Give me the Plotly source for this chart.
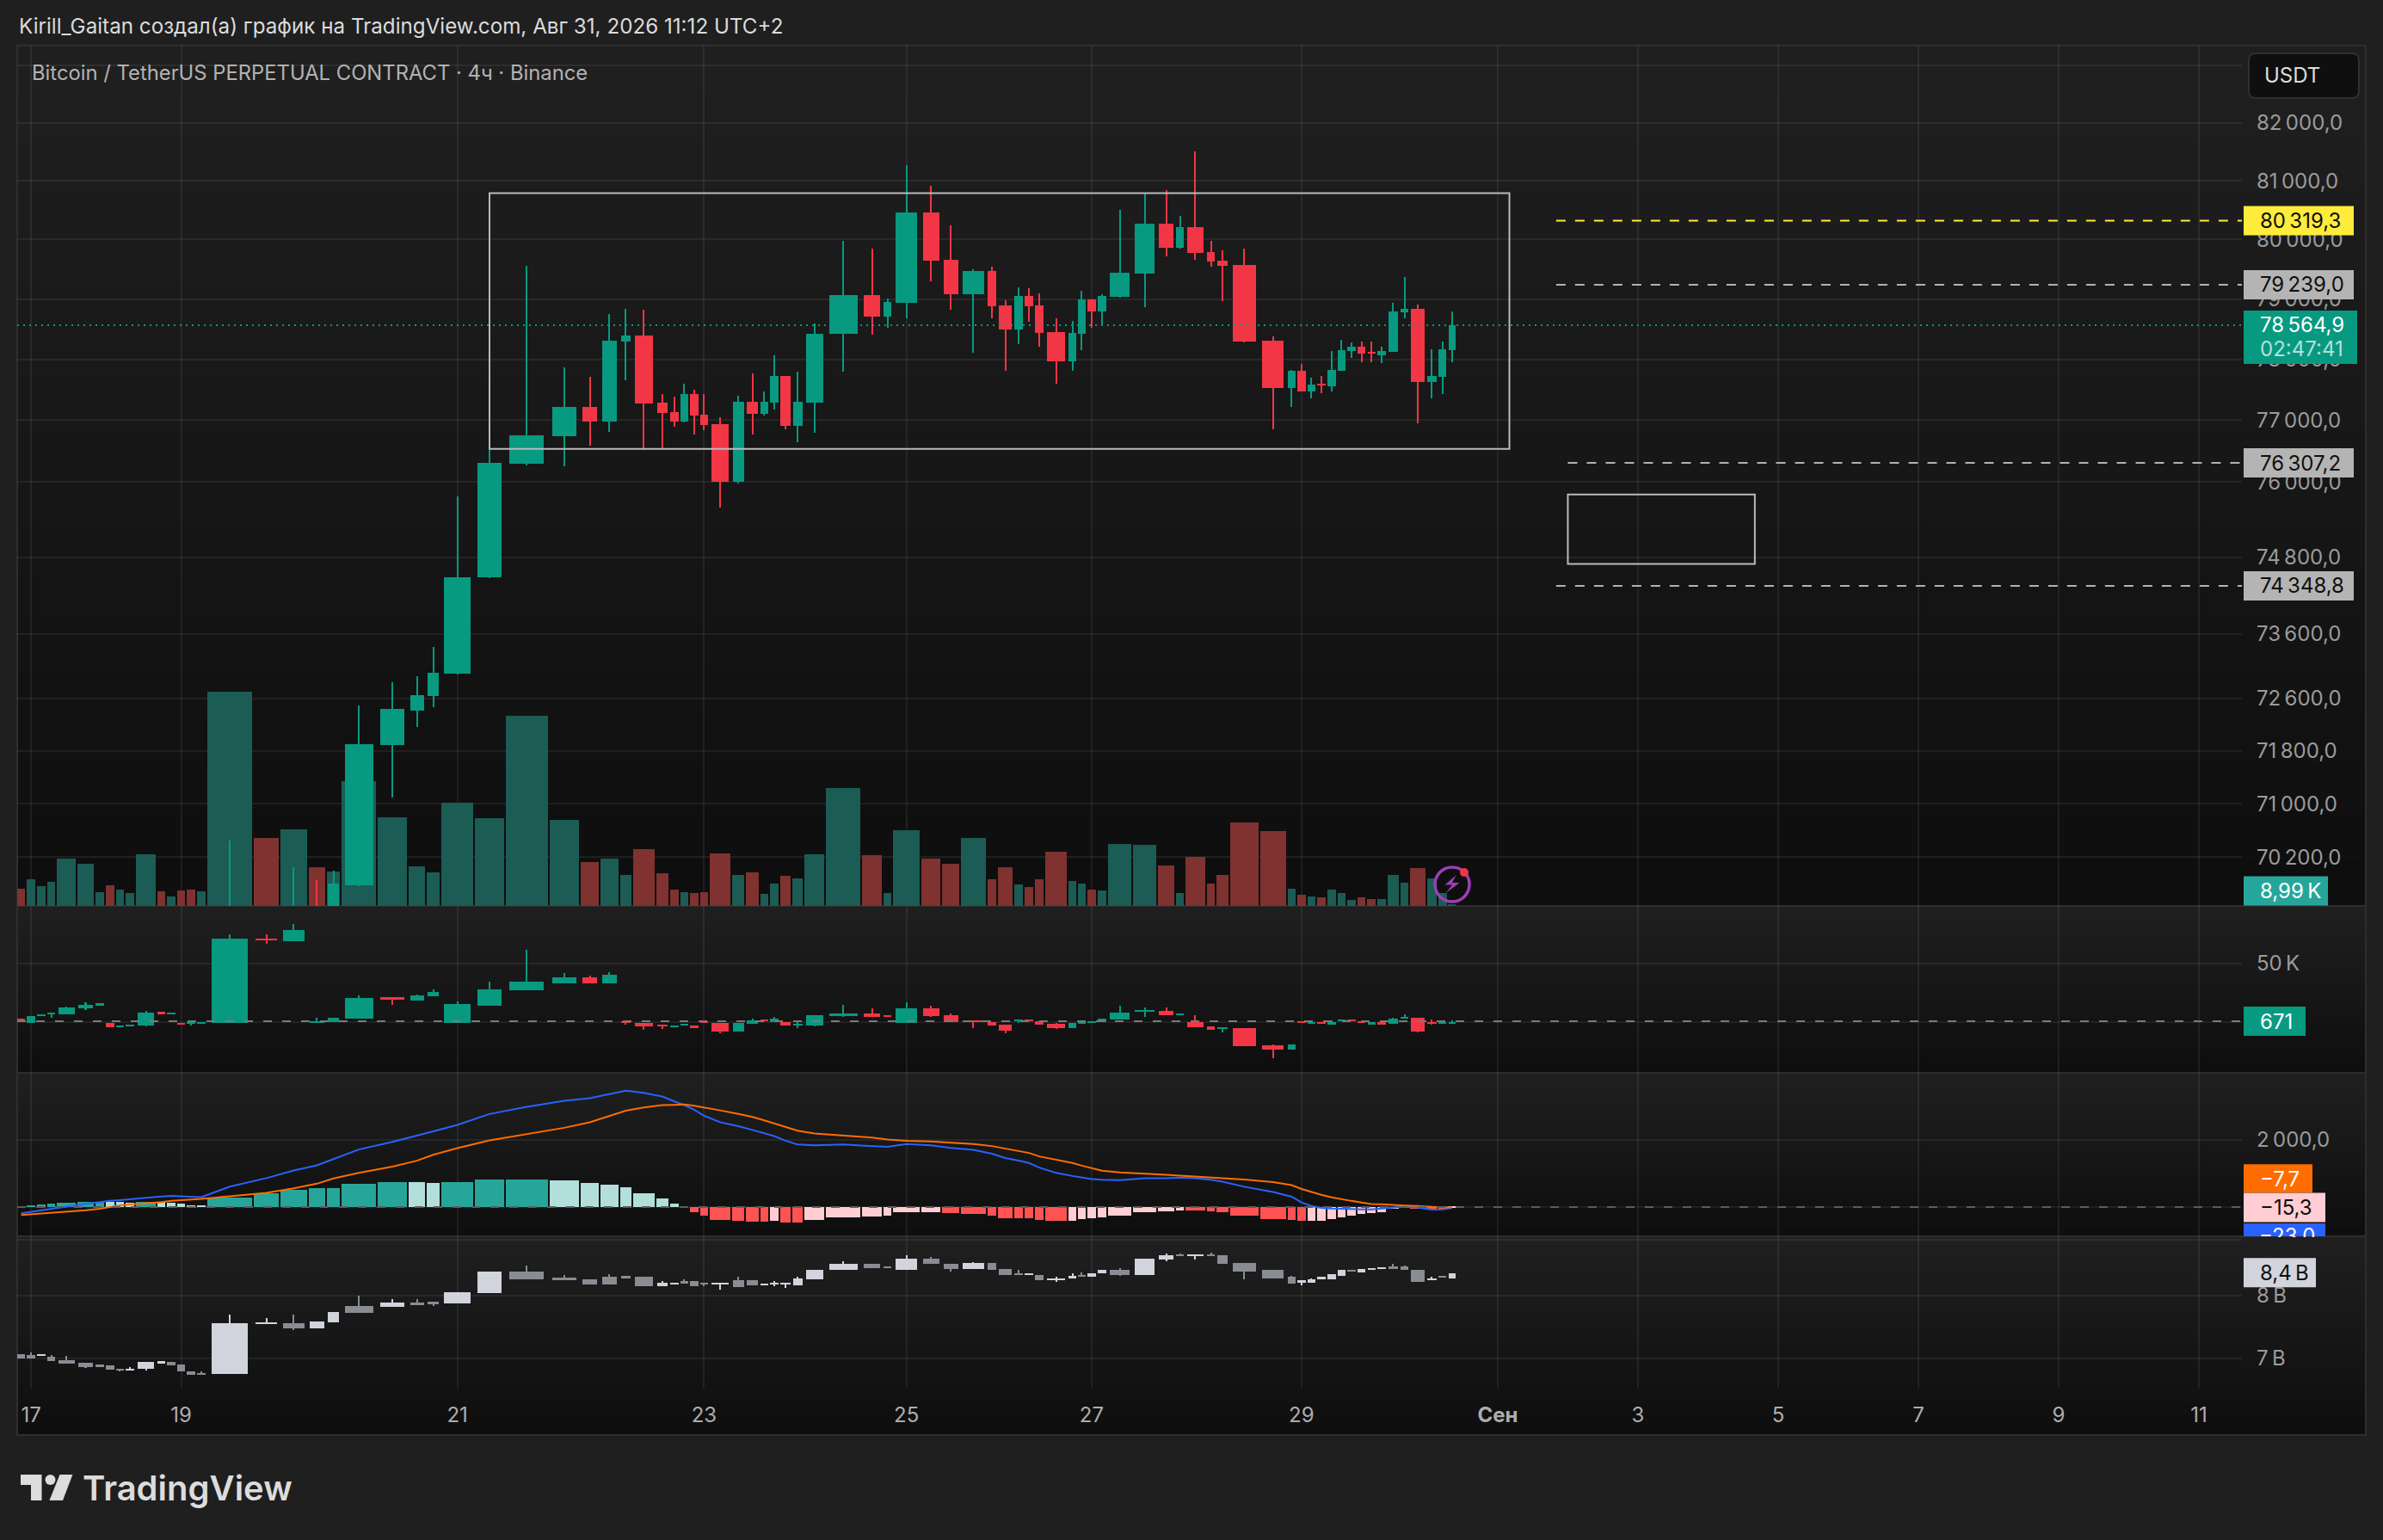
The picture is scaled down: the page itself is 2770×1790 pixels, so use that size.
import math
import plotly.graph_objects as go

W, H = 2770, 1790
FONT = "Inter"
GREEN = "#089981"
RED = "#f23645"
PLOT_L, PLOT_R = 20, 2606

# width of every bar on the volume-warped time axis, then the slot of future bars
bar_span = [19, 21, 21, 19, 42, 36, 21, 21, 19, 21, 44, 19, 21, 19, 21, 21, 94, 54, 57, 37, 30, 73,
            63, 36, 30, 68, 62, 89, 63, 40, 40, 26, 47, 28, 21, 19, 21, 19, 46, 28, 29, 19, 21, 25,
            24, 44, 73, 43, 20, 57, 42, 38, 54, 21, 33, 21, 21, 21, 47, 19, 19, 21, 21, 51, 50, 37,
            19, 43, 20, 27, 61, 56, 19, 21, 19, 21, 21, 19, 21, 20, 20, 21, 26, 20, 34, 23, 20, 19]
future_span = 23.67

price_open = [67800, 67700, 67800, 67880, 67950, 68120, 68230, 68280, 68190, 68220, 68250, 68450, 68390,
              68420, 68360, 68300, 68340, 69300, 69100, 69350, 69200, 69790, 71890, 72410, 72635, 72985,
              74480, 76300, 76745, 77220, 76980, 78295, 78395, 77290, 77135, 76980, 77430, 77095, 76940,
              76005, 77305, 77105, 77290, 77725, 76905, 77285, 78420, 79065, 78710, 78938, 80461, 79660,
              79080, 79475, 78895, 78495, 79055, 78895, 78445, 77965, 78420, 78995, 78790, 79040, 79430,
              80270, 79865, 80215, 79790, 79650, 79575, 78310, 77525, 77810, 77470, 77600, 77560, 77810,
              78135, 78210, 78120, 78065, 78120, 78775, 78835, 77620, 77710, 78150]
price_high = [67840, 67840, 67920, 67990, 68160, 68270, 68320, 68320, 68260, 68290, 68490, 68490, 68460,
              68460, 68400, 68380, 70450, 69420, 70055, 69860, 70000, 72495, 72850, 72935, 73395, 75770,
              76540, 79560, 77870, 77705, 78755, 78840, 78825, 77430, 77390, 77600, 77500, 77430, 77050,
              77400, 77770, 77475, 78065, 77725, 77795, 78595, 79980, 79850, 79010, 81270, 80915, 80245,
              79500, 79545, 78980, 79195, 79185, 79095, 78680, 78640, 79140, 78995, 79085, 80505, 80785,
              80845, 80400, 81510, 79980, 79820, 79850, 78380, 77825, 77920, 77695, 77725, 78135, 78325,
              78280, 78295, 78295, 78210, 78935, 79375, 78905, 78165, 78295, 78790]
price_low = [67660, 67660, 67760, 67840, 67910, 68080, 68190, 68150, 68150, 68180, 68210, 68350, 68350,
             68320, 68260, 68260, 68300, 69000, 68950, 69100, 69150, 69770, 71098, 72165, 72465, 72970,
             74470, 76265, 76250, 76580, 76810, 77655, 76510, 76545, 76895, 76965, 76770, 76840, 75590,
             75970, 76770, 77075, 77175, 76855, 76645, 76795, 77795, 78405, 78520, 78680, 79298, 78825,
             78110, 78680, 77810, 78250, 78620, 78210, 77600, 77810, 78150, 78520, 78565, 79025, 78865,
             79710, 79850, 79660, 79535, 78965, 78280, 76855, 77215, 77470, 77360, 77445, 77470, 77810,
             78020, 77950, 77950, 77935, 78120, 78680, 76955, 77360, 77425, 77950]
price_close = [67700, 67800, 67880, 67950, 68120, 68230, 68280, 68190, 68220, 68250, 68450, 68390, 68420,
               68360, 68300, 68340, 69300, 69100, 69350, 69200, 69810, 71900, 72435, 72650, 72995, 74485,
               76310, 76755, 77220, 76980, 78305, 78395, 77275, 77120, 76980, 77430, 77080, 76925, 76005,
               77305, 77105, 77305, 77725, 76905, 77305, 78425, 79065, 78710, 78950, 80461, 79646, 79080,
               79475, 78880, 78495, 79055, 78880, 78430, 77965, 78430, 78995, 78790, 79055, 79445, 80270,
               79865, 80215, 79780, 79635, 79560, 78295, 77525, 77810, 77470, 77585, 77570, 77825, 78150,
               78210, 78090, 78090, 78135, 78790, 78835, 77620, 77725, 78165, 78564.9]

volume_k = [73, 112, 84, 102, 199, 176, 58, 87, 69, 55, 214, 62, 40, 65, 69, 62, 897, 285, 321, 163, 145, 522,
            372, 167, 140, 433, 368, 796, 361, 184, 196, 131, 238, 138, 69, 58, 55, 58, 221, 131, 140, 50,
            93, 125, 114, 215, 492, 212, 53, 317, 198, 175, 283, 111, 161, 90, 79, 111, 227, 103, 93, 67,
            64, 259, 256, 169, 53, 204, 93, 129, 349, 312, 71, 47, 39, 35, 67, 53, 24, 35, 27, 27, 129, 96,
            157, 114, 53, 8.99]

delta_open = [3090, -562, 5339, 7025, 6463, 11521, 14612, -562, -3934, -3091, -3091, 8711, 6744, -562, -1405,
              -843, -562, 71655, 69407, -281, -281, 2810, 21075, 18265, 21918, -562, 14331, 26976, 33439,
              37935, 33439, 562, -562, -1967, -3934, -2810, -2810, 281, -843, -7872, -1640, 2296, 0, -328,
              -2624, -3280, 5248, 7216, 5904, -656, 11808, 5904, 1312, 328, -2296, 656, 2296, 656, -1640,
              -5248, -1312, -328, 0, 2296, 8856, 9512, 5904, 0, -3608, -5576, -5248, -20008, -23616, 328,
              -1640, 0, -2296, 656, 2296, 656, -1640, -328, -1640, 2952, 3608, 328, -1312, -1312]
delta_high = [3090, 5058, 6463, 7868, 12900, 16579, 16017, -562, -2810, -1967, 9835, 8711, 7868, -562, 0, 281,
              75308, 74746, 83457, 3372, 3372, 22480, 21075, 23323, 27819, 17422, 34282, 61539, 41588, 39340,
              42431, 1400, -562, -1967, -2810, -1686, -2810, 281, -843, -656, 2952, 2296, 4264, -328, -328,
              6200, 14760, 11808, 5904, 16728, 13776, 7216, 1312, 328, -2296, 2296, 2296, 656, -984, -656,
              984, 984, 2952, 13776, 12464, 12464, 7216, 5904, -3608, -4592, -5248, -19000, -19024, 328, 0, 0,
              1300, 2296, 2296, 656, -328, -328, 3600, 6560, 3608, 2296, 0, 1312]
delta_low = [-200, -562, 5339, 3372, 6463, 10397, 14612, -4215, -4500, -3900, -3653, 7306, 6744, -2529, -3091,
             -843, -562, 66597, 69407, -281, -281, 2810, 14612, 18265, 21918, -562, 14331, 26976, 32900, 33439,
             33439, -2529, -6744, -6182, -3934, -2810, -5339, -281, -9835, -7872, -1640, 656, 0, -2952, -5248,
             -3600, 4264, 4264, 4264, -656, 4264, 0, -5248, -2952, -9512, -656, 656, -2296, -5904, -5248, -1312,
             -328, 0, 2296, 4264, 5904, 5904, -4592, -6560, -8528, -20336, -30832, -23616, -656, -1640, -1640,
             -2296, 656, 984, -328, -1640, -1640, -1640, 2952, -8856, -1968, -1312, -1312]
delta_close = [1124, 5058, 6463, 7868, 12364, 14893, 16017, -4215, -2810, -1967, 7868, 7306, 7868, -2529, 0, 281,
               71093, 70531, 78961, 843, 3372, 20232, 19670, 22480, 25571, 15174, 27819, 34282, 37935, 33439,
               40183, -562, -3372, -3091, -2810, -1686, -5339, -281, -8149, -656, 1312, 656, 2952, -2952, -1640,
               5904, 7216, 4264, 4264, 11808, 5248, 0, 0, -2952, -7544, 2296, 656, -2296, -5248, -656, 984, 984,
               2952, 8200, 10168, 5904, 7216, -4592, -6560, -4592, -20336, -23288, -19024, -656, 0, -1640, 328,
               2296, 984, -328, -328, -1640, 2952, 4264, -8200, -984, 0, 328]

macd_hist = [20, 49, 69, 98, 118, 147, 157, 157, 157, 118, 147, 147, 118, 98, 49, 49, 274, 412, 510, 559, 559, 686,
             735, 735, 715, 735, 813, 813, 784, 715, 657, 578, 402, 245, 98, -20, -147, -265, -392, -411, -434,
             -434, -400, -457, -457, -377, -309, -274, -251, -149, -149, -171, -206, -251, -331, -331, -331,
             -377, -411, -411, -354, -331, -309, -251, -149, -126, -103, -103, -126, -149, -251, -354, -377,
             -411, -411, -411, -354, -309, -251, -206, -171, -149, -57, -23, -57, -80, -57, -15.3]
hist_shade = "SSSSSSSPPPSPPPPPSSSSSSSPPSSSPPPPPPPSSSSSSSPSSPPPPPPSSSSSSSSPPPPPPPPSSSSSSSPPPPPPPPPPSSSP"
macd_line = [-186, -147, -98, -59, 10, 98, 157, 186, 206, 225, 274, 314, 333, 323, 304, 294, 608, 862, 1088, 1245,
             1431, 1715, 1940, 2117, 2254, 2450, 2773, 2989, 3165, 3244, 3371, 3469, 3401, 3293, 3146, 3038, 2901,
             2724, 2528, 2412, 2297, 2195, 2115, 1977, 1863, 1840, 1863, 1817, 1795, 1875, 1840, 1760, 1703, 1589,
             1463, 1383, 1314, 1177, 1017, 926, 880, 834, 812, 800, 857, 857, 880, 857, 812, 754, 606, 446, 309,
             137, 34, -23, -46, -46, -57, -69, -69, -46, -11, 11, -11, -80, -69, -23.0]
signal_line = [-235, -216, -196, -176, -147, -98, -49, 10, 49, 78, 108, 147, 186, 206, 225, 245, 323, 421, 559, 696,
               853, 1019, 1205, 1382, 1558, 1754, 1989, 2176, 2362, 2528, 2705, 2871, 2969, 3038, 3048, 3058, 3018,
               2969, 2881, 2778, 2686, 2583, 2492, 2389, 2275, 2195, 2126, 2069, 2012, 1977, 1955, 1920, 1875, 1817,
               1737, 1669, 1612, 1509, 1417, 1314, 1234, 1154, 1086, 1029, 983, 960, 937, 914, 892, 869, 823, 743,
               652, 537, 446, 366, 286, 229, 183, 137, 91, 80, 57, 46, 34, 0, -11, -7.7]

turn_open = [7.063, 7.048, 7.043, 7.029, 6.975, 6.936, 6.907, 6.892, 6.853, 6.820, 6.844, 6.936, 6.951, 6.912, 6.815,
             6.791, 6.772, 7.527, 7.543, 7.459, 7.559, 7.823, 7.812, 7.883, 7.894, 7.867, 8.039, 8.419, 8.308, 8.279,
             8.326, 8.337, 8.326, 8.158, 8.193, 8.250, 8.250, 8.221, 8.193, 8.259, 8.259, 8.171, 8.198, 8.198, 8.178,
             8.286, 8.443, 8.561, 8.519, 8.457, 8.659, 8.561, 8.470, 8.582, 8.470, 8.394, 8.367, 8.361, 8.259, 8.293,
             8.361, 8.333, 8.381, 8.443, 8.361, 8.645, 8.737, 8.709, 8.737, 8.709, 8.582, 8.443, 8.320, 8.232, 8.225,
             8.286, 8.286, 8.346, 8.457, 8.408, 8.457, 8.470, 8.519, 8.519, 8.457, 8.272, 8.340, 8.299]
turn_high = [7.063, 7.088, 7.058, 7.048, 7.039, 6.936, 6.907, 6.892, 6.853, 6.873, 6.946, 6.965, 6.951, 6.912, 6.815,
             6.810, 7.682, 7.628, 7.682, 7.570, 7.725, 8.000, 7.939, 7.939, 7.894, 8.056, 8.419, 8.520, 8.355, 8.279,
             8.372, 8.337, 8.326, 8.250, 8.227, 8.279, 8.250, 8.221, 8.221, 8.320, 8.259, 8.212, 8.245, 8.225, 8.320,
             8.457, 8.609, 8.561, 8.519, 8.709, 8.687, 8.561, 8.596, 8.582, 8.470, 8.457, 8.394, 8.361, 8.320, 8.381,
             8.408, 8.394, 8.443, 8.485, 8.659, 8.752, 8.752, 8.737, 8.759, 8.709, 8.582, 8.443, 8.346, 8.259, 8.299,
             8.320, 8.367, 8.443, 8.457, 8.470, 8.477, 8.498, 8.561, 8.533, 8.457, 8.326, 8.340, 8.394]
turn_low = [7.004, 6.999, 7.043, 6.960, 6.921, 6.858, 6.882, 6.834, 6.810, 6.820, 6.820, 6.936, 6.897, 6.810, 6.758,
            6.772, 6.772, 7.527, 7.433, 7.459, 7.559, 7.709, 7.812, 7.839, 7.823, 7.867, 8.039, 8.279, 8.279, 8.193,
            8.193, 8.308, 8.158, 8.158, 8.193, 8.204, 8.158, 8.158, 8.107, 8.152, 8.171, 8.171, 8.165, 8.125, 8.178,
            8.286, 8.443, 8.485, 8.491, 8.457, 8.554, 8.422, 8.470, 8.457, 8.361, 8.361, 8.367, 8.259, 8.232, 8.293,
            8.333, 8.333, 8.381, 8.346, 8.361, 8.609, 8.709, 8.645, 8.709, 8.561, 8.286, 8.299, 8.212, 8.178, 8.225,
            8.286, 8.286, 8.346, 8.422, 8.408, 8.457, 8.470, 8.470, 8.443, 8.239, 8.272, 8.306, 8.299]
turn_close = [7.004, 6.999, 7.058, 6.960, 6.921, 6.873, 6.882, 6.834, 6.834, 6.853, 6.946, 6.960, 6.897, 6.810, 6.758,
              6.772, 7.543, 7.559, 7.459, 7.570, 7.725, 7.709, 7.883, 7.839, 7.867, 8.056, 8.419, 8.279, 8.279, 8.193,
              8.193, 8.308, 8.158, 8.221, 8.227, 8.204, 8.158, 8.193, 8.221, 8.152, 8.171, 8.212, 8.225, 8.225, 8.293,
              8.457, 8.561, 8.485, 8.491, 8.659, 8.554, 8.470, 8.582, 8.457, 8.361, 8.361, 8.394, 8.259, 8.299, 8.346,
              8.333, 8.394, 8.443, 8.361, 8.659, 8.709, 8.709, 8.737, 8.709, 8.561, 8.422, 8.299, 8.212, 8.259, 8.286,
              8.320, 8.367, 8.443, 8.422, 8.470, 8.477, 8.498, 8.470, 8.443, 8.239, 8.299, 8.306, 8.394]

# axis labels
price_ticks = [83000, 82000, 81000, 80000, 79000, 78000, 77000, 76000, 74800, 73600, 72600, 71800, 71000, 70200]
price_ticktext = ["", "82\u2009000,0", "81\u2009000,0", "80\u2009000,0", "79\u2009000,0", "78\u2009000,0",
                  "77\u2009000,0", "76\u2009000,0", "74\u2009800,0", "73\u2009600,0", "72\u2009600,0",
                  "71\u2009800,0", "71\u2009000,0", "70\u2009200,0"]
day_bars = [2, 14, 26, 38, 50, 62, 74, 92, 104, 116, 128, 140, 152]
day_labels = ["17", "19", "21", "23", "25", "27", "29", "<b>Сен</b>", "3", "5", "7", "9", "11"]

# levels drawn on the chart
box_large = dict(bar0=27, bar1=93, top=80790, bottom=76535)
box_small = dict(bar0=98, bar1=114, top=75800, bottom=74695)
level_yellow = 80319.3
levels_grey = [(79239.0, 97), (76307.2, 98), (74348.8, 97)]
last_price = 78564.9

# log axes, as [low, high] in powers of ten
price_range = [4.84186, 4.92091]
turn_range = [0.8173, 0.9578]


# paper x runs over the plot area only, not the whole page
def px(x):
    return (x - PLOT_L) / (PLOT_R - PLOT_L)


def py(y):
    return 1 - y / H


edges = []
pos = 0
for s in bar_span:
    edges.append(pos)
    pos += s
end_of_bars = pos
centers = [e + s / 2 for e, s in zip(edges, bar_span)]


def slot_x(n):
    # n counts bars from 1, past the last bar the slots are regular
    if n <= len(centers):
        return centers[n - 1]
    return end_of_bars + (n - len(centers) - 0.5) * future_span


x_range = [1.5, 1.5 + 4505.5]


def candles(o, h, l, c, xa, ya, up=GREEN, down=RED):
    colors = [up if b >= a else down for a, b in zip(o, c)]
    wick = go.Bar(x=centers, y=[b - a for a, b in zip(l, h)], base=l, width=3.5,
                  marker=dict(color=colors, line_width=0), xaxis=xa, yaxis=ya, hoverinfo="skip")
    body = go.Bar(x=centers, y=[abs(a - b) for a, b in zip(o, c)], base=[min(a, b) for a, b in zip(o, c)],
                  width=[s * 0.78 for s in bar_span],
                  marker=dict(color=colors, line_width=0), xaxis=xa, yaxis=ya, hoverinfo="skip")
    return [wick, body]


vol_colors = ["#1b5c55" if b >= a else "#7f3230" for a, b in zip(price_open, price_close)]
hist_colors = []
for v, shade in zip(macd_hist, hist_shade):
    if v >= 0:
        hist_colors.append("#26a69a" if shade == "S" else "#b2dfdb")
    else:
        hist_colors.append("#ff5252" if shade == "S" else "#ffcdd2")

traces = [go.Bar(x=centers, y=volume_k, width=[s - 3.2 for s in bar_span],
                 marker=dict(color=vol_colors, line_width=0), xaxis="x", yaxis="y", hoverinfo="skip")]
traces += candles(price_open, price_high, price_low, price_close, "x", "y2")
traces += candles(delta_open, delta_high, delta_low, delta_close, "x2", "y3")
traces.append(go.Bar(x=centers, y=macd_hist, width=[s - 3.2 for s in bar_span],
                     marker=dict(color=hist_colors, line_width=0), xaxis="x3", yaxis="y4", hoverinfo="skip"))
traces.append(go.Scatter(x=centers, y=macd_line, mode="lines", line=dict(color="#2962ff", width=2),
                         xaxis="x3", yaxis="y4", hoverinfo="skip"))
traces.append(go.Scatter(x=centers, y=signal_line, mode="lines", line=dict(color="#ff6d00", width=2),
                         xaxis="x3", yaxis="y4", hoverinfo="skip"))
traces += candles(turn_open, turn_high, turn_low, turn_close, "x4", "y5", up="#d1d4dc", down="#8a8c94")

fig = go.Figure(data=traces)

tick_x = [slot_x(n) for n in day_bars]
GRID = "rgba(255,255,255,0.065)"
xcommon = dict(range=x_range, tickmode="array", tickvals=tick_x, ticktext=day_labels, showgrid=True,
               gridcolor=GRID, gridwidth=2, zeroline=False, showline=False, ticks="", fixedrange=True)
ycommon = dict(showgrid=True, gridcolor=GRID, gridwidth=2, zeroline=False, showline=False, ticks="",
               side="right", tickmode="array", ticklabelstandoff=16, fixedrange=True,
               tickfont=dict(family=FONT, size=24, color="#9b9b9b"))

main_dom = [py(1053), py(53)]
delta_dom = [py(1247), py(1053)]
macd_dom = [py(1437), py(1247)]
turn_dom = [py(1614), py(1437)]

fig.update_layout(
    width=W, height=H, paper_bgcolor="#1f1f1f", plot_bgcolor="rgba(0,0,0,0)",
    margin=dict(l=PLOT_L, r=W - PLOT_R, t=0, b=0, pad=0, autoexpand=False), showlegend=False, barmode="overlay", bargap=0,
    font=dict(family=FONT),
    xaxis=dict(domain=[0, 1], anchor="y", showticklabels=False, **xcommon),
    xaxis2=dict(domain=[0, 1], anchor="y3", showticklabels=False, **xcommon),
    xaxis3=dict(domain=[0, 1], anchor="y4", showticklabels=False, **xcommon),
    xaxis4=dict(domain=[0, 1], anchor="y5", showticklabels=True, ticklabelstandoff=14,
                tickfont=dict(family=FONT, size=24, color="#adadad"), **xcommon),
    yaxis=dict(domain=main_dom, anchor="x", range=[0, 3596], showgrid=False, zeroline=False,
               showticklabels=False, ticks="", fixedrange=True),
    yaxis2=dict(domain=main_dom, anchor="x", overlaying="y", type="log", range=price_range,
                tickvals=price_ticks, ticktext=price_ticktext, **ycommon),
    yaxis3=dict(domain=delta_dom, anchor="x2", range=[-43365, 99225], tickvals=[0, 50000],
                ticktext=["", "50\u2009K"], **ycommon),
    yaxis4=dict(domain=macd_dom, anchor="x3", range=[-872, 4000], tickvals=[0, 2000],
                ticktext=["", "2\u2009000,0"], **ycommon),
    yaxis5=dict(domain=turn_dom, anchor="x4", type="log", range=turn_range, tickvals=[7, 8, 9],
                ticktext=["7\u2009B", "8\u2009B", ""], **ycommon),
)


# panes fade from lighter at the top to darker at the bottom
def gradient(top, bottom, levels=18):
    for i in range(levels):
        c = round(31 - 17 * i / (levels - 1))
        fig.add_shape(type="rect", xref="paper", yref="paper", layer="below", line_width=0,
                      x0=px(20), x1=px(2750),
                      y0=py(top + (bottom - top) * (i + 1) / levels), y1=py(top + (bottom - top) * i / levels),
                      fillcolor=f"rgb({c},{c},{c})")


gradient(53, 1053)
gradient(1053, 1247)
gradient(1247, 1437)
gradient(1437, 1668)

# pane frame
BORDER = "#2e2e2e"
fig.add_shape(type="rect", xref="paper", yref="paper", layer="below", x0=px(20), x1=px(2750), y0=py(1668), y1=py(53),
              line=dict(color=BORDER, width=2))
for sep in [1053, 1247, 1437]:
    fig.add_shape(type="line", xref="paper", yref="paper", layer="below", x0=px(20), x1=px(2750), y0=py(sep), y1=py(sep),
                  line=dict(color=BORDER, width=2))

# drawings on the price pane
for box in [box_large, box_small]:
    fig.add_shape(type="rect", xref="x", yref="y2", x0=slot_x(box["bar0"]), x1=slot_x(box["bar1"]),
                  y0=box["bottom"], y1=box["top"], line=dict(color="#b9b9c0", width=2), layer="above")
fig.add_shape(type="line", xref="x", yref="y2", x0=slot_x(97), x1=x_range[1], y0=level_yellow, y1=level_yellow,
              line=dict(color="#ffeb3b", width=2, dash="11px,11px"), layer="above")
for value, start in levels_grey:
    fig.add_shape(type="line", xref="x", yref="y2", x0=slot_x(start), x1=x_range[1], y0=value, y1=value,
                  line=dict(color="#b2b2b2", width=2, dash="11px,11px"), layer="above")
fig.add_shape(type="line", xref="x", yref="y2", x0=x_range[0], x1=x_range[1], y0=last_price, y1=last_price,
              line=dict(color=GREEN, width=2, dash="2px,5px"), layer="above")
fig.add_shape(type="line", xref="x2", yref="y3", x0=x_range[0], x1=x_range[1], y0=671, y1=671,
              line=dict(color="#7a7a7a", width=2, dash="10px,12px"), layer="above")
fig.add_shape(type="line", xref="x3", yref="y4", x0=x_range[0], x1=x_range[1], y0=0, y1=0,
              line=dict(color="#5c5c5c", width=2, dash="10px,12px"), layer="above")


def tag(value, yref, text, right, fill, ink, y0=-17, y1=17, shift=0, log_span=None):
    # log_span is (powers of ten on the axis, pane height in pixels); pixel sizing does not hold on log axes
    if log_span:
        per_px = log_span[0] / log_span[1]
        anchor = math.log10(value)
        fig.add_shape(type="rect", xref="paper", yref=yref, x0=px(2608), x1=px(right),
                      y0=10 ** (anchor + y0 * per_px), y1=10 ** (anchor + y1 * per_px),
                      fillcolor=fill, line_width=0, layer="above")
    else:
        anchor = value
        fig.add_shape(type="rect", xref="paper", yref=yref, x0=px(2608), x1=px(right), ysizemode="pixel",
                      yanchor=anchor, y0=y0, y1=y1, fillcolor=fill, line_width=0, layer="above")
    if text:
        fig.add_annotation(xref="paper", yref=yref, x=px(2625), y=anchor, text=text,
                           showarrow=False, xanchor="left", yanchor="middle", yshift=shift,
                           font=dict(family=FONT, size=24, color=ink))


price_span = (price_range[1] - price_range[0], 1000)
turn_span = (turn_range[1] - turn_range[0], 177)

tag(level_yellow, "y2", "80\u2009319,3", 2736, "#ffeb3b", "#0f0f0f", log_span=price_span)
tag(79239.0, "y2", "79\u2009239,0", 2736, "#b4b4b4", "#0f0f0f", log_span=price_span)
tag(last_price, "y2", "78\u2009564,9", 2740, GREEN, "#ffffff", y0=-45, y1=17, log_span=price_span)
fig.add_annotation(xref="paper", yref="y2", x=px(2625), y=math.log10(last_price), text="02:47:41", showarrow=False,
                   xanchor="left", yanchor="middle", yshift=-28, font=dict(family=FONT, size=24, color="#b5e0d8"))
tag(76307.2, "y2", "76\u2009307,2", 2736, "#b4b4b4", "#0f0f0f", log_span=price_span)
tag(74348.8, "y2", "74\u2009348,8", 2736, "#b4b4b4", "#0f0f0f", log_span=price_span)
tag(8.99, "y", "8,99\u2009K", 2706, "#26a69a", "#ffffff", y0=-2, y1=32, shift=15)
tag(671, "y3", "671", 2680, GREEN, "#ffffff")
tag(-7.7, "y4", "\u22127,7", 2688, "#ff6d00", "#ffffff", y0=17, y1=50, shift=33)
tag(-15.3, "y4", "\u221215,3", 2703, "#ffcdd2", "#0f0f0f")
tag(-23.0, "y4", "", 2703, "#2962ff", "#ffffff", y0=-52, y1=-18)
fig.add_annotation(xref="paper", yref="paper", x=px(2625), y=py(1421), text="\u221223,0", showarrow=False,
                   xanchor="left", yanchor="top", height=16, valign="top", borderpad=0,
                   font=dict(family=FONT, size=24, color="#ffffff"))
tag(8.4, "y5", "8,4\u2009B", 2692, "#d1d4dc", "#0f0f0f", log_span=turn_span)


def paper_text(x, y, text, size, color, weight=None):
    fig.add_annotation(xref="paper", yref="paper", x=px(x), y=py(y), text=text, showarrow=False, xanchor="left",
                       yanchor="middle", font=dict(family=FONT, size=size, color=color, weight=weight))


paper_text(20, 30, "Kirill_Gaitan создал(а) график на TradingView.com, Авг 31, 2026 11:12 UTC+2", 24.2, "#dbdbdb")
paper_text(35, 85, "Bitcoin / TetherUS PERPETUAL CONTRACT · 4ч · Binance", 23.8, "#b2b2b2")

# currency button
fig.add_shape(type="path", xref="paper", yref="paper", layer="above", fillcolor="#0f0f0f",
              line=dict(color="#303030", width=2),
              path=" ".join(["M", str(px(2622)), str(py(62)), "L", str(px(2734)), str(py(62)),
                             "Q", str(px(2742)), str(py(62)), str(px(2742)), str(py(70)),
                             "L", str(px(2742)), str(py(106)),
                             "Q", str(px(2742)), str(py(114)), str(px(2734)), str(py(114)),
                             "L", str(px(2622)), str(py(114)),
                             "Q", str(px(2614)), str(py(114)), str(px(2614)), str(py(106)),
                             "L", str(px(2614)), str(py(70)),
                             "Q", str(px(2614)), str(py(62)), str(px(2622)), str(py(62)), "Z"]))
paper_text(2630, 88, "USDT", 24, "#dddddd")


def polygon(points, color):
    cmds = []
    for i, (a, b) in enumerate(points):
        cmds.append(("M " if i == 0 else "L ") + f"{px(a)} {py(b)}")
    fig.add_shape(type="path", xref="paper", yref="paper", layer="above", path=" ".join(cmds) + " Z",
                  fillcolor=color, line_width=0)


def circle(cx, cy, r, fill=None, line=None):
    fig.add_shape(type="circle", xref="paper", yref="paper", layer="above", x0=px(cx - r), x1=px(cx + r),
                  y0=py(cy + r), y1=py(cy - r), fillcolor=fill, line=line or dict(width=0))


# TradingView logo
LOGO = "#dcdcdc"
polygon([(24, 1714), (48.5, 1714), (48.5, 1744), (36, 1744), (36, 1726), (24, 1726)], LOGO)
circle(58.5, 1720, 6, fill=LOGO)
polygon([(69.5, 1714), (84.4, 1714), (73, 1744), (57.4, 1744)], LOGO)
paper_text(94, 1729, "TradingView", 40, LOGO, weight=600)

# live-data badge
circle(1688, 1028, 20, line=dict(color="#9c3fb5", width=3.5))
polygon([(1692.7, 1017), (1679.5, 1028.6), (1688, 1028.6), (1680.6, 1038), (1696.7, 1026), (1688, 1026)], "#9c3fb5")
circle(1702, 1014, 5, fill="#f23645")

fig.write_html("out.html", post_script="document.body.style.margin='0';", config=dict(displayModeBar=False))
